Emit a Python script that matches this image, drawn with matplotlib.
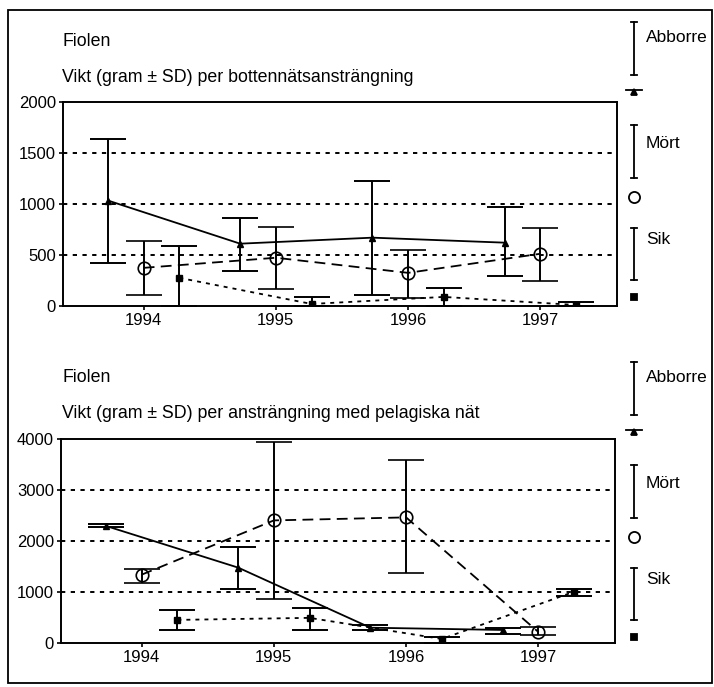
import matplotlib
matplotlib.use("Agg")
import matplotlib.pyplot as plt
from matplotlib.lines import Line2D
from matplotlib.patches import Rectangle
import numpy as np

plt.rcParams['font.family'] = ['Liberation Sans', 'DejaVu Sans']

years = [1994, 1995, 1996, 1997]
species = ["Abborre", "Mört", "Sik"]

# Top panel: bottom nets (mean, lower, upper)
top_abborre = [1034, 611, 670, 621]
top_abborre_lo = [424, 345, 108, 296]
top_abborre_hi = [1635, 867, 1222, 975]
top_mort = [374, 473, 325, 512]
top_mort_lo = [108, 167, 76, 246]
top_mort_hi = [640, 778, 552, 768]
top_sik = [276, 20, 89, 10]
top_sik_lo = [0, 0, 0, 0]
top_sik_hi = [591, 89, 177, 40]

# Bottom panel: pelagic nets
bot_abborre = [2295, 1478, 300, 256]
bot_abborre_lo = [2266, 1064, 256, 177]
bot_abborre_hi = [2325, 1892, 355, 296]
bot_mort = [1340, 2404, 2463, 217]
bot_mort_lo = [1182, 867, 1379, 158]
bot_mort_hi = [1458, 3941, 3586, 315]
bot_sik = [453, 493, 79, 1005]
bot_sik_lo = [256, 256, 0, 926]
bot_sik_hi = [650, 690, 118, 1064]

top_yticks = [0, 500, 1000, 1500, 2000]
bot_yticks = [0, 1000, 2000, 3000, 4000]

W, H = 714, 687
fig = plt.figure(figsize=(W / 100, H / 100), dpi=100)

def fx(px):
    return px / W

def fy(py):
    return 1 - py / H

# Outer frame
fig.add_artist(Rectangle((fx(8), fy(683)), fx(712) - fx(8), fy(10) - fy(683),
                         transform=fig.transFigure, fill=False, lw=1.3, ec='black'))

offsets = {"Abborre": -0.27, "Mört": 0.0, "Sik": 0.27}
styles = {
    "Abborre": dict(ls='-', marker='^', ms=4, mfc='black', mec='black'),
    "Mört": dict(ls=(0, (6, 3.5)), marker='o', ms=9, mfc='none', mec='black', mew=1.2),
    "Sik": dict(ls=(0, (2.2, 2.8)), marker='s', ms=5, mfc='black', mec='black'),
}

def panel(rect, ymax, yticks, data, title1, title2, title_y1, title_y2):
    ax = fig.add_axes(rect)
    x = np.array(years, dtype=float)
    for sp, (m, lo, hi) in zip(species, data):
        m = np.array(m, float); lo = np.array(lo, float); hi = np.array(hi, float)
        st = styles[sp]
        ax.errorbar(x + offsets[sp], m, yerr=[m - lo, hi - m], color='black',
                    lw=1.3, elinewidth=1.4, capsize=13, capthick=1.4,
                    clip_on=True, zorder=3, **st)
    for yv in yticks[1:-1]:
        ax.axhline(yv, color='black', lw=1.4, ls=(0, (2.2, 2.8)), zorder=1)
    ax.set_xlim(1993.39, 1997.58)
    ax.set_ylim(0, ymax)
    ax.set_xticks(years)
    ax.set_yticks(yticks)
    ax.tick_params(axis='both', labelsize=12, length=3, width=1.2, direction='out', pad=2)
    for s in ax.spines.values():
        s.set_linewidth(1.4)
    fig.text(fx(62), fy(title_y1), title1, fontsize=12.8, va='center', ha='left')
    fig.text(fx(62), fy(title_y2), title2, fontsize=12.8, va='center', ha='left')
    return ax

panel([fx(63), fy(306), fx(617) - fx(63), fy(102) - fy(306)], 2000, top_yticks,
      [(top_abborre, top_abborre_lo, top_abborre_hi),
       (top_mort, top_mort_lo, top_mort_hi),
       (top_sik, top_sik_lo, top_sik_hi)],
      "Fiolen", "Vikt (gram ± SD) per bottennätsansträngning", 42, 78)

panel([fx(61), fy(643), fx(615) - fx(61), fy(439) - fy(643)], 4000, bot_yticks,
      [(bot_abborre, bot_abborre_lo, bot_abborre_hi),
       (bot_mort, bot_mort_lo, bot_mort_hi),
       (bot_sik, bot_sik_lo, bot_sik_hi)],
      "Fiolen", "Vikt (gram ± SD) per ansträngning med pelagiska nät", 378, 414)

# Legends (drawn in figure pixel coords)
def legend(y0):
    items = [("Abborre", 22, 75, 92, 37, '^', 'black', 5),
             ("Mört", 125, 178, 197, 143, 'o', 'none', 8),
             ("Sik", 228, 280, 297, 240, 's', 'black', 5)]
    x = 634
    for name, a, b, mk_y, lab_y, mk, mfc, ms in items:
        fig.add_artist(Line2D([fx(x), fx(x)], [fy(y0 + a), fy(y0 + b)], color='black', lw=1.3))
        for yy in (a, b):
            fig.add_artist(Line2D([fx(x - 3), fx(x + 3)], [fy(y0 + yy), fy(y0 + yy)], color='black', lw=1.3))
        if name == "Abborre":
            fig.add_artist(Line2D([fx(x - 8), fx(x + 8)], [fy(y0 + mk_y - 2), fy(y0 + mk_y - 2)], color='black', lw=1.3))
        fig.add_artist(Line2D([fx(x)], [fy(y0 + mk_y)], marker=mk, ms=ms, mfc=mfc, mec='black', mew=1.3, ls='none'))
        fig.text(fx(646), fy(y0 + lab_y), name, fontsize=12.5, va='center', ha='left')

legend(0)
legend(340)

fig.savefig("out.png", dpi=100)
